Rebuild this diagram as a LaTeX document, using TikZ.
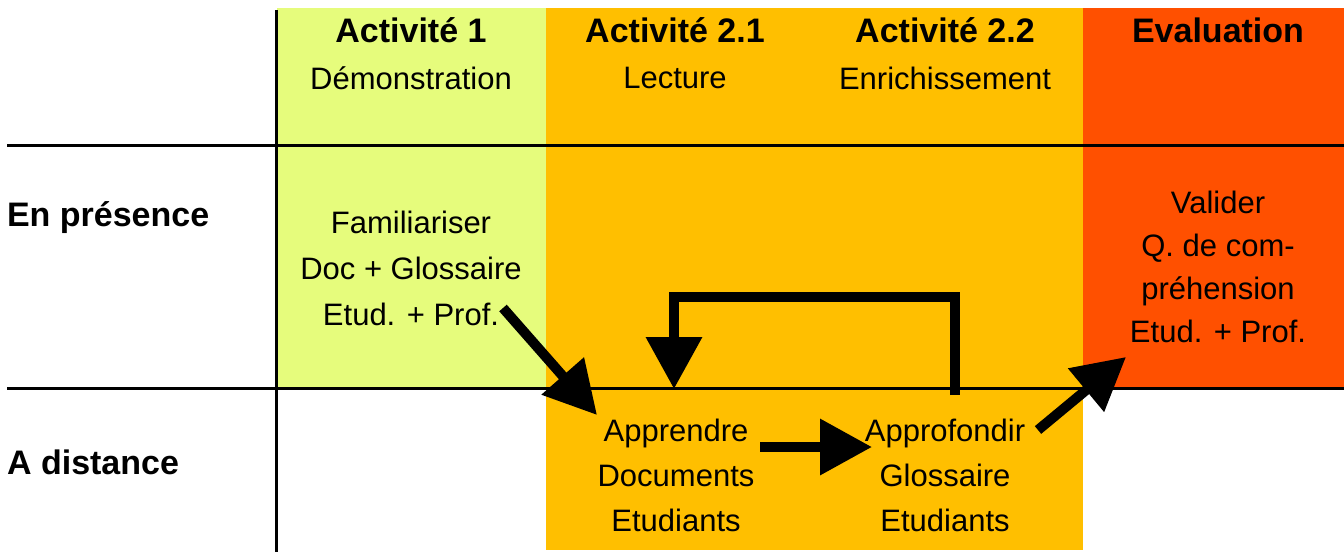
\documentclass[tikz,border=0pt]{standalone}
\usepackage{fontspec}
\setmainfont{Liberation Sans}
\usetikzlibrary{arrows.meta}
\definecolor{actone}{HTML}{E6FC7C}
\definecolor{acttwo}{HTML}{FFBF00}
\definecolor{evalred}{HTML}{FF5000}
\begin{document}
\begin{tikzpicture}[x=0.5pt,y=-0.5pt,
    head/.style={font=\fontsize{17}{20}\selectfont\bfseries},
    sub/.style={font=\fontsize{15.5}{18}\selectfont},
    block/.style={align=center,font=\fontsize{15.5}{23}\selectfont},
    bigarrow/.style={line width=5pt,-{Triangle[length=26pt,width=27pt]}}]
    \useasboundingbox (0,0) rectangle (1344,552);

    % Column fills
    \fill[actone] (277,8) rectangle (546,388);
    \fill[acttwo] (546,8) rectangle (1083,550);
    \fill[evalred] (1083,8) rectangle (1344,388);

    % Grid lines
    \draw[line width=1.5pt] (276,10) -- (276,552);
    \draw[line width=1.5pt] (7,145) -- (1344,145);
    \draw[line width=1.5pt] (7,388) -- (1344,388);

    % Column headers
    \node[head] (act1) at (411,30) {Activité 1};
    \node[sub] (demo) at (411,78) {Démonstration};
    \node[head] (act21) at (675,30) {Activité 2.1};
    \node[sub] (lect) at (675,78) {Lecture};
    \node[head] (act22) at (945,30) {Activité 2.2};
    \node[sub] (enri) at (945,78) {Enrichissement};
    \node[head] (eval) at (1218,30) {Evaluation};

    % Row labels
    \node[head,anchor=west] (pres) at (0,218) {En présence};
    \node[head,anchor=west] (dist) at (0,462) {A distance};

    % Cells
    \node[block] (fam) at (411,268) {Familiariser\\Doc + Glossaire\\Etud. + Prof.};
    \node[block,font=\fontsize{15.5}{21.5}\selectfont] (valid) at (1218,267) {Valider\\Q. de com-\\préhension\\Etud. + Prof.};
    \node[block,font=\fontsize{15.5}{22.5}\selectfont] (appr) at (676,475) {Apprendre\\Documents\\Etudiants};
    \node[block,font=\fontsize{15.5}{22.5}\selectfont] (appf) at (945,475) {Approfondir\\Glossaire\\Etudiants};

    % Arrow ends
    \coordinate (famout) at (503,308);
    \coordinate (apprin) at (597,415);
    \coordinate (approut) at (760,447);
    \coordinate (appfin) at (872,447);
    \coordinate (appfup) at (955,395);
    \coordinate (apprup) at (674,389);
    \coordinate (appfout) at (1038,430);
    \coordinate (validin) at (1126,357);

    % Flow
    \draw[bigarrow] (famout) -- (apprin);
    \draw[bigarrow] (approut) -- (appfin);
    \draw[bigarrow] (appfup) -- (appfup |- 0,297) -- (apprup |- 0,297) -- (apprup);
    \draw[bigarrow] (appfout) -- (validin);
\end{tikzpicture}
\end{document}
